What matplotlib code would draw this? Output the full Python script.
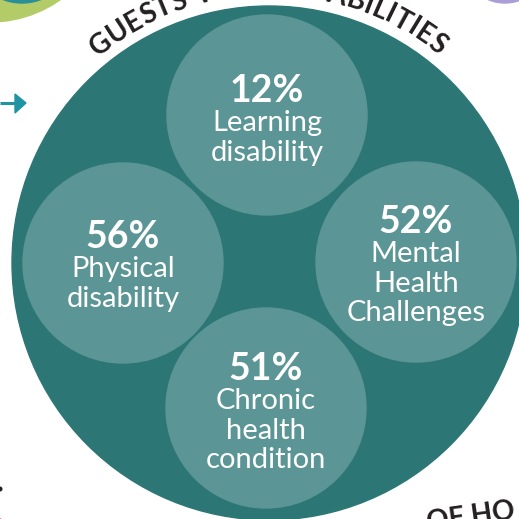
import numpy as np
import matplotlib
matplotlib.use("Agg")
import matplotlib.pyplot as plt
from matplotlib.patches import Circle, Polygon
from matplotlib.textpath import TextToPath
from matplotlib.font_manager import FontProperties

# ---- data ----
title = "GUESTS WITH DISABILITIES"
percentages = ["12%", "56%", "52%", "51%"]
labels = ["Learning\ndisability", "Physical\ndisability",
          "Mental\nHealth\nChallenges", "Chronic\nhealth\ncondition"]
positions = ["top", "left", "right", "bottom"]

# ---- styles ----
DARK = "#2c7775"
LIGHT = "#5b9595"
INK = "#231f20"
W = H = 519

fig = plt.figure(figsize=(5.19, 5.19), dpi=100)
ax = fig.add_axes([0, 0, 1, 1])
ax.set_xlim(0, W)
ax.set_ylim(H, 0)
ax.axis("off")

# background decorations
ax.add_patch(Circle((-10, -100), 122, color="#b3cc68", zorder=1))
ax.add_patch(Circle((22, -50), 53, color="#2a8f96", zorder=2))
ax.add_patch(Circle((505, -40), 43, color="#a99fd6", zorder=1))
ax.plot([0, 17], [103, 103], color="#2293a3", lw=2.2, solid_capstyle="butt", zorder=2)
ax.add_patch(Polygon([[15, 94], [26, 103], [15, 113]], closed=True, color="#2293a3", zorder=2))
ax.add_patch(Circle((-20, 545), 33, color="#d960a8", zorder=1))
ax.add_patch(Circle((0, 489), 1.8, color=INK, zorder=1))

# main circle
cx, cy, R = 269, 263, 257
ax.add_patch(Circle((cx, cy), R, color=DARK, zorder=3))

# inner circles
centers = {"top": (267, 115), "left": (123, 263), "right": (416, 262), "bottom": (266, 408)}
r_in = 100
pct_base = {"top": 102, "left": 248, "right": 233, "bottom": 380}
line_h = 29.3

for pos, pct, lab in zip(positions, percentages, labels):
    x, y = centers[pos]
    ax.add_patch(Circle((x, y), r_in, color=LIGHT, zorder=4))
    yb = pct_base[pos]
    ax.text(x, yb, pct, ha="center", va="baseline", color="white",
            fontsize=27, fontweight="bold", family="Lato", zorder=5)
    for i, line in enumerate(lab.split("\n")):
        ax.text(x, yb + line_h * (i + 1), line, ha="center", va="baseline",
                color="white", fontsize=21, family="Lato", zorder=5)

# curved title
prop = FontProperties(family="Lato", weight="bold", size=20)
ttp = TextToPath()
widths = []
for ch in title:
    w, h, d = ttp.get_text_width_height_descent(ch if ch != " " else "a", prop, ismath=False)
    if ch == " ":
        w *= 0.6
    widths.append(w * 100 / 72)
widths = np.array(widths)
centers_nat = np.cumsum(widths) - widths / 2
r_txt = 276
span_deg = 75.0
span_len = np.deg2rad(span_deg) * r_txt
n = len(title)
track = (span_len - (centers_nat[-1] - centers_nat[0])) / (n - 1)
pos_len = centers_nat - centers_nat[0] + track * np.arange(n)
angles = -span_deg / 2 + np.rad2deg(pos_len / r_txt)
for ch, th in zip(title, angles):
    if ch == " ":
        continue
    t = np.deg2rad(th)
    px = cx + r_txt * np.sin(t)
    py = cy - r_txt * np.cos(t)
    ax.text(px, py, ch, ha="center", va="center", rotation=-th,
            rotation_mode="anchor", fontproperties=prop, color=INK, zorder=2)

# bottom-right partial text
ax.text(428, 531, "OF HO", ha="left", va="baseline", rotation=8,
        rotation_mode="anchor", family="Lato", fontweight="bold",
        fontsize=20, color=INK, zorder=2)

fig.savefig("out.png", dpi=100)
